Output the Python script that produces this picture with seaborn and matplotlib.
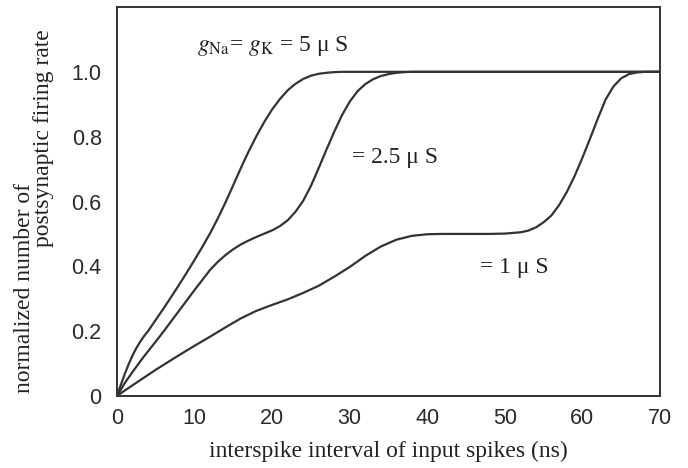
import numpy as np
import pandas as pd
import matplotlib
matplotlib.use("Agg")
import matplotlib.pyplot as plt
import seaborn as sns

# ---- data ----
x_5 = [0, 0.5, 1, 1.5, 2, 2.5, 3, 3.5, 4, 5, 6, 7, 8, 9, 10, 11, 12, 13, 14, 15, 16, 17, 18, 19, 20,
       21, 22, 23, 24, 25, 26, 27, 28, 29, 30, 40, 50, 60, 70]
y_5 = [0, 0.035, 0.068, 0.098, 0.125, 0.148, 0.168, 0.185, 0.2, 0.235, 0.27, 0.306, 0.343, 0.381, 0.42,
       0.46, 0.502, 0.548, 0.598, 0.651, 0.705, 0.756, 0.803, 0.846, 0.884, 0.916, 0.943, 0.963, 0.978, 0.988,
       0.994, 0.997, 0.999, 1.0, 1.0, 1.0, 1.0, 1.0, 1.0]

x_25 = [0, 1, 2, 3, 4, 5, 6, 7, 8, 9, 10, 11, 12, 13, 14, 15, 16, 17, 18, 19, 20, 21, 22, 23, 24, 25, 26, 27, 28, 29,
        30, 31, 32, 33, 34, 35, 36, 37, 38, 40, 50, 60, 70]
y_25 = [0, 0.04, 0.074, 0.107, 0.138, 0.168, 0.199, 0.231, 0.263, 0.295, 0.327, 0.358, 0.389, 0.414, 0.435, 0.453,
        0.468, 0.48, 0.491, 0.501, 0.511, 0.524, 0.542, 0.568, 0.602, 0.648, 0.703, 0.76, 0.815, 0.866, 0.908, 0.94,
        0.962, 0.977, 0.987, 0.993, 0.997, 0.999, 1.0, 1.0, 1.0, 1.0, 1.0]

x_1 = [0, 1, 2, 3, 4, 5, 6, 8, 10, 12, 14, 16, 18, 20, 22, 24, 26, 28, 30, 32, 34, 36, 38, 40, 42, 44, 46, 48, 50, 51,
       52, 53, 54, 55, 56, 57, 58, 59, 60, 61, 62, 63, 64, 65, 66, 67, 68, 70]
y_1 = [0, 0.017, 0.033, 0.049, 0.065, 0.081, 0.096, 0.126, 0.155, 0.183, 0.212, 0.240, 0.263, 0.281, 0.298, 0.318,
       0.340, 0.368, 0.398, 0.432, 0.461, 0.482, 0.494, 0.499, 0.500, 0.500, 0.500, 0.500, 0.501, 0.503, 0.505, 0.51,
       0.52, 0.536, 0.557, 0.589, 0.63, 0.679, 0.735, 0.795, 0.857, 0.915, 0.955, 0.98, 0.993, 0.998, 1.0, 1.0]

x_ticks = [0, 10, 20, 30, 40, 50, 60, 70]
y_ticks = [0, 0.2, 0.4, 0.6, 0.8, 1.0]
y_ticklabels = ["0", "0.2", "0.4", "0.6", "0.8", "1.0"]

# ---- styling ----
sns.set_style("white")
plt.rcParams["font.family"] = ["Liberation Sans", "DejaVu Sans"]
plt.rcParams["mathtext.fontset"] = "stix"

INK = "#333333"
SERIF = ["Liberation Serif", "DejaVu Serif"]

df = pd.concat([
    pd.DataFrame({"x": x_5, "y": y_5, "s": "5"}),
    pd.DataFrame({"x": x_25, "y": y_25, "s": "2.5"}),
    pd.DataFrame({"x": x_1, "y": y_1, "s": "1"}),
])

fig = plt.figure(figsize=(6.88, 4.68), dpi=100)
ax = fig.add_axes([117 / 688, 1 - 396 / 468, (660 - 117) / 688, (396 - 7) / 468])

sns.lineplot(data=df, x="x", y="y", hue="s", palette={"5": INK, "2.5": INK, "1": INK},
             linewidth=1.6, legend=False, ax=ax, sort=False)
for ln in ax.lines:
    ln.set_solid_joinstyle("round")

ax.set_xlim(0, 70)
ax.set_ylim(0, 1.2)
ax.set_xticks(x_ticks)
ax.set_xticklabels([str(v) for v in x_ticks])
ax.set_yticks(y_ticks)
ax.set_yticklabels(y_ticklabels)
ax.tick_params(axis="both", direction="in", length=6.5, width=1.2, color=INK,
               labelsize=15.5, labelcolor="#2a2a2a")
ax.tick_params(axis="x", pad=9)
ax.tick_params(axis="y", pad=11)
for sp in ax.spines.values():
    sp.set_color(INK)
    sp.set_linewidth(1.4)
    sp.set_visible(True)

ax.set_xlabel("interspike interval of input spikes (ns)", family=SERIF, fontsize=17, color="#222222", labelpad=8)
ax.set_ylabel("")

# two-line y label (staggered as in the reference)
fig.text(25 / 688, 1 - 393 / 468, "normalized number of", rotation=90, ha="center", va="bottom",
         family=SERIF, fontsize=17, color="#222222")
fig.text(44 / 688, 1 - 247 / 468, "postsynaptic firing rate", rotation=90, ha="center", va="bottom",
         family=SERIF, fontsize=17, color="#222222")

ax.text(10.3, 1.08, r"$g_{\mathrm{Na}}$= $g_{\mathrm{K}}$ = 5 μ S", family=SERIF, fontsize=17,
        color="#222222", ha="left", va="center")
ax.text(30.3, 0.735, "= 2.5 μ S", family=SERIF, fontsize=17, color="#222222", ha="left", va="center")
ax.text(46.8, 0.395, "= 1 μ S", family=SERIF, fontsize=17, color="#222222", ha="left", va="center")

fig.savefig("out.png", dpi=100)
